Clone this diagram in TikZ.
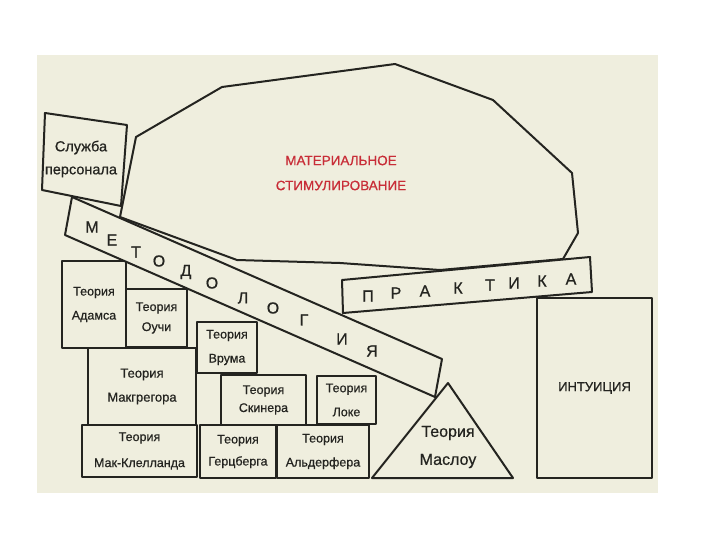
\documentclass[tikz,border=0pt]{standalone}
\usepackage{fontspec}
\setmainfont{Liberation Sans}[FakeBold=0.7]
\definecolor{bg}{RGB}{239,238,222}
\definecolor{ink}{RGB}{36,36,32}
\definecolor{redtxt}{RGB}{200,45,55}
\begin{document}
\begin{tikzpicture}[x=1pt,y=-1pt,
  edge/.style={draw=ink,line width=2pt,line join=round},
  tbox/.style={edge,fill=bg,anchor=north west,inner sep=0pt,outer sep=0pt,align=center,text=ink,font=\fontsize{12.5}{24}\selectfont},
  ltr/.style={inner sep=0pt,text=ink,font=\fontsize{16}{16}\selectfont},
  txt/.style={inner sep=0pt,align=center,text=ink}]
\useasboundingbox (0,0) rectangle (720,540);
\fill[white] (0,0) rectangle (720,540);
\fill[bg] (37,55) rectangle (658,493);

% material stimulation blob
\draw[edge,fill=bg] (136,137) -- (222,87) -- (395,64) -- (493,100) -- (572,173) -- (578,233) -- (563,259) -- (440,270) -- (340,263) -- (237,260) -- (120,217) -- cycle;
\node[txt,text=redtxt,font=\fontsize{13.5}{25}\selectfont] (mat) at (341,173) {МАТЕРИАЛЬНОЕ\\СТИМУЛИРОВАНИЕ};

% personnel service
\draw[edge,fill=bg] (45,113) -- (127,125) -- (121,206) -- (42,190) -- cycle;
\node[txt,font=\fontsize{14.5}{23}\selectfont] (sluzhba) at (81,159) {Служба\\персонала};

% theory boxes
\node[tbox,minimum width=64pt,minimum height=87pt] (adams) at (62,261) {Теория\\Адамса};
\node[tbox,minimum width=61pt,minimum height=58pt,font=\fontsize{12.5}{20}\selectfont] (ouchi) at (126,289) {Теория\\Оучи};
\node[tbox,minimum width=60pt,minimum height=51pt] (vrum) at (197,322) {Теория\\Врума};
\node[tbox,minimum width=108pt,minimum height=77pt,font=\fontsize{13}{24}\selectfont] (mcg) at (88,348) {Теория\\Макгрегора};
\node[tbox,minimum width=115pt,minimum height=52pt,font=\fontsize{12.5}{26}\selectfont] (mccl) at (82,425) {Теория\\Мак-Клелланда};
\node[tbox,minimum width=85pt,minimum height=50pt,font=\fontsize{12.5}{18}\selectfont] (skin) at (221,375) {Теория\\Скинера};
\node[tbox,minimum width=59pt,minimum height=48pt] (loke) at (317,376) {Теория\\Локе};
\node[tbox,minimum width=76pt,minimum height=53pt,font=\fontsize{12.5}{22}\selectfont] (herz) at (200,425) {Теория\\Герцберга};
\node[tbox,minimum width=92pt,minimum height=53pt] (alder) at (277,425) {Теория\\Альдерфера};
\node[tbox,minimum width=115pt,minimum height=180pt,font=\fontsize{13}{15}\selectfont] (intu) at (537,298) {ИНТУИЦИЯ};

% Maslow triangle
\draw[edge,fill=bg] (448,383) -- (513,478) -- (372,478) -- cycle;
\node[txt,font=\fontsize{16}{28}\selectfont] (maslow) at (448,447) {Теория\\Маслоу};

% methodology band
\draw[edge,fill=bg] (72,197) -- (442,359) -- (435,397) -- (65,235) -- cycle;
\node[ltr] (m1) at (92,227) {М};
\node[ltr] (m2) at (112,240) {Е};
\node[ltr] (m3) at (136,252) {Т};
\node[ltr] (m4) at (159,261) {О};
\node[ltr] (m5) at (186,272) {Д};
\node[ltr] (m6) at (212,283) {О};
\node[ltr] (m7) at (243,298) {Л};
\node[ltr] (m8) at (273,308) {О};
\node[ltr] (m9) at (304,320) {Г};
\node[ltr] (m10) at (342,339) {И};
\node[ltr] (m11) at (372,351) {Я};

% practice band
\draw[edge,fill=bg] (342,280) -- (590,257) -- (592,292) -- (343,313) -- cycle;
\node[ltr] (p1) at (368,296) {П};
\node[ltr] (p2) at (396,293) {Р};
\node[ltr] (p3) at (425,291) {А};
\node[ltr] (p4) at (458,288) {К};
\node[ltr] (p5) at (490,285) {Т};
\node[ltr] (p6) at (514,283) {И};
\node[ltr] (p7) at (542,281) {К};
\node[ltr] (p8) at (571,279) {А};
\end{tikzpicture}
\end{document}
